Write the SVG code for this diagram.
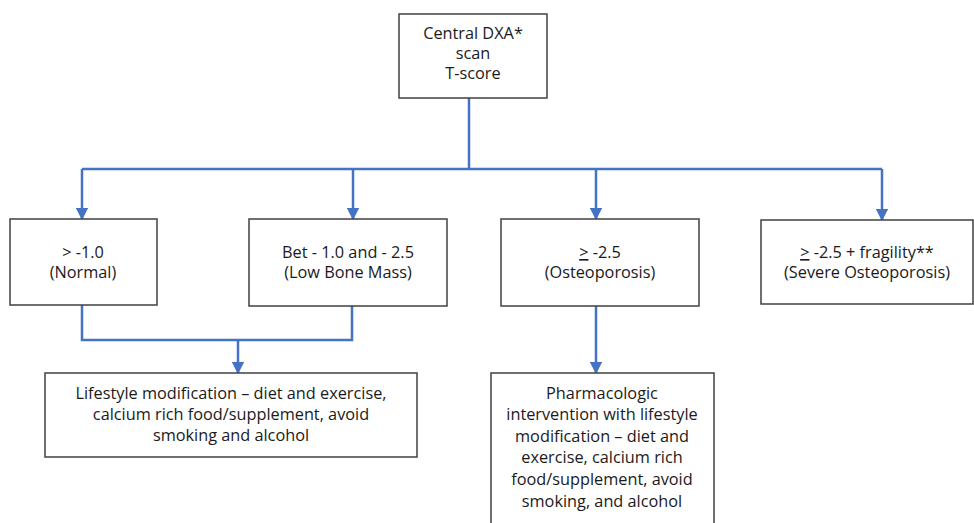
<svg xmlns="http://www.w3.org/2000/svg" width="974" height="523" viewBox="0 0 974 523">
<style>
.box{fill:#fff;stroke:#404040;stroke-width:1.5}
.t{font-family:"Open Sans","Liberation Sans",Arial,sans-serif;font-size:16.3px;fill:#1a1a1a;text-anchor:middle}
.c{fill:none;stroke:#4472C4;stroke-width:2.5}
</style>
<defs>
<marker id="ah" viewBox="0 0 10 10" refX="9" refY="5" markerWidth="5" markerHeight="5" orient="auto" markerUnits="strokeWidth">
<path d="M0,0 L10,5 L0,10 z" fill="#4472C4"/>
</marker>
</defs>
<rect width="974" height="523" fill="#fff"/>
<g id="connectors">
<path class="c" d="M469,98 V169"/>
<path class="c" d="M82,169 H882"/>
<path class="c" d="M82,169 V219" marker-end="url(#ah)"/>
<path class="c" d="M353,169 V219" marker-end="url(#ah)"/>
<path class="c" d="M596,169 V219" marker-end="url(#ah)"/>
<path class="c" d="M882,169 V220" marker-end="url(#ah)"/>
<path class="c" d="M82,305 V340 H352 V306"/>
<path class="c" d="M238,340 V373" marker-end="url(#ah)"/>
<path class="c" d="M596,306 V373" marker-end="url(#ah)"/>
</g>
<g id="dxa">
<rect class="box" x="399" y="14" width="148" height="84"/>
<text class="t" x="473" y="39">Central DXA*</text>
<text class="t" x="473" y="59">scan</text>
<text class="t" x="473" y="79">T-score</text>
</g>
<g id="normal">
<rect class="box" x="10" y="219" width="147" height="86"/>
<text class="t" x="83" y="258">&gt; -1.0</text>
<text class="t" x="83" y="278">(Normal)</text>
</g>
<g id="lowbone">
<rect class="box" x="249" y="219" width="198" height="87"/>
<text class="t" x="348" y="258">Bet - 1.0 and - 2.5</text>
<text class="t" x="348" y="278">(Low Bone Mass)</text>
</g>
<g id="osteo">
<rect class="box" x="501" y="219" width="198" height="87"/>
<text class="t" x="600" y="258"><tspan text-decoration="underline">&gt;</tspan> -2.5</text>
<text class="t" x="600" y="278">(Osteoporosis)</text>
</g>
<g id="severe">
<rect class="box" x="761" y="220" width="212" height="84"/>
<text class="t" x="867" y="258"><tspan text-decoration="underline">&gt;</tspan> -2.5 + fragility**</text>
<text class="t" x="867" y="278">(Severe Osteoporosis)</text>
</g>
<g id="lifestyle">
<rect class="box" x="45" y="373" width="372" height="84"/>
<text class="t" x="231" y="399">Lifestyle modification – diet and exercise,</text>
<text class="t" x="231" y="420">calcium rich food/supplement, avoid</text>
<text class="t" x="231" y="441">smoking and alcohol</text>
</g>
<g id="pharma">
<rect class="box" x="491" y="373" width="223" height="160"/>
<text class="t" x="602" y="399">Pharmacologic</text>
<text class="t" x="602" y="420">intervention with lifestyle</text>
<text class="t" x="602" y="442">modification – diet and</text>
<text class="t" x="602" y="463">exercise, calcium rich</text>
<text class="t" x="602" y="485">food/supplement, avoid</text>
<text class="t" x="602" y="507">smoking, and alcohol</text>
</g>
</svg>
